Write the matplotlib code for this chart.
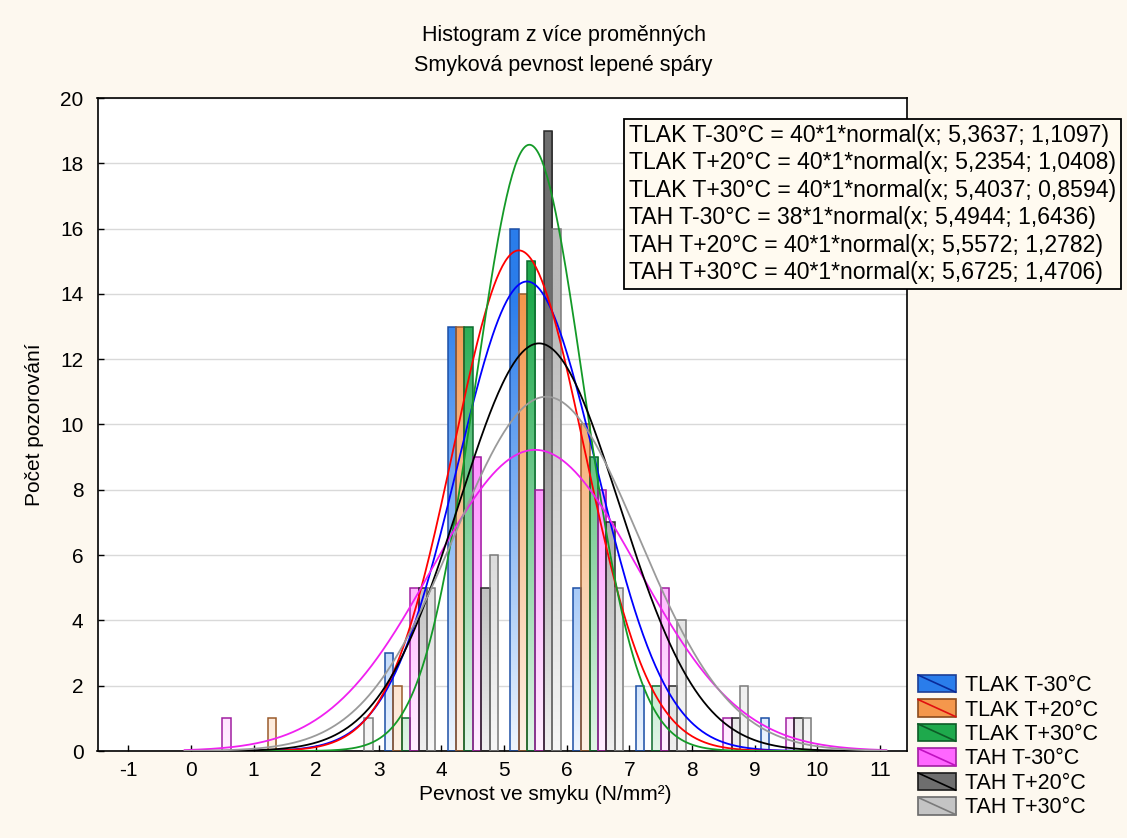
import numpy as np
import matplotlib
matplotlib.use("Agg")
import matplotlib.pyplot as plt
from matplotlib.patches import Rectangle
from matplotlib.lines import Line2D
from matplotlib.legend_handler import HandlerBase

plt.rcParams['font.family'] = ['Liberation Sans', 'DejaVu Sans']

# ---------------- data ----------------
series_names = ["TLAK T-30°C", "TLAK T+20°C", "TLAK T+30°C",
                "TAH T-30°C", "TAH T+20°C", "TAH T+30°C"]
bin_left = [0, 1, 2, 3, 4, 5, 6, 7, 8, 9, 10]
tlak_m30 = [0, 0, 0, 3, 13, 16, 5, 2, 0, 1, 0]
tlak_p20 = [0, 1, 0, 2, 13, 14, 10, 0, 0, 0, 0]
tlak_p30 = [0, 0, 0, 1, 13, 15, 9, 2, 0, 0, 0]
tah_m30 = [1, 0, 0, 5, 9, 8, 8, 5, 1, 1, 0]
tah_p20 = [0, 0, 0, 5, 5, 19, 7, 2, 1, 1, 0]
tah_p30 = [0, 0, 1, 5, 6, 16, 5, 4, 2, 1, 0]
fit_n = [40, 40, 40, 38, 40, 40]
fit_mean = [5.3637, 5.2354, 5.4037, 5.4944, 5.5572, 5.6725]
fit_sd = [1.1097, 1.0408, 0.8594, 1.6436, 1.2782, 1.4706]
x_ticks = list(range(-1, 12))
y_ticks = list(range(0, 21, 2))

counts = [tlak_m30, tlak_p20, tlak_p30, tah_m30, tah_p20, tah_p30]

# ---------------- styles ----------------
top_col = ["#2A7DEB", "#F4974C", "#1EA94C", "#FF5CFF", "#6E6E6E", "#B8B8B8"]
low_col = ["#EEF5FE", "#FEF1E6", "#E2F5E8", "#FFF0FF", "#F0F0F0", "#F7F7F7"]
edge_col = ["#1C4FA6", "#9A5B2C", "#0D6B2E", "#A01FA0", "#2A2A2A", "#7A7A7A"]
line_col = ["#0000FF", "#FF0000", "#149A28", "#F020F0", "#000000", "#9A9A9A"]
fig_bg = "#FDF8EF"

W, H = 1127, 838
fig = plt.figure(figsize=(W / 100, H / 100), dpi=100, facecolor=fig_bg)
axL, axR, axT, axB = 97.5, 907, 98, 751
ax = fig.add_axes([axL / W, 1 - axB / H, (axR - axL) / W, (axB - axT) / H])
ax.set_facecolor("white")

nser = len(counts)
bw = 0.8 / nser
for i, cnt in enumerate(counts):
    xs = np.array(bin_left, dtype=float) + 0.1 + i * bw
    bars = ax.bar(xs, cnt, width=bw, align="edge", facecolor="none",
                  edgecolor=edge_col[i], linewidth=1.1, zorder=3)
    c_top = np.array(matplotlib.colors.to_rgb(top_col[i]))
    c_low = np.array(matplotlib.colors.to_rgb(low_col[i]))
    for b, h in zip(bars, cnt):
        if h == 0:
            b.set_visible(False)
            continue
        ys = np.linspace(0, h, 80)
        t = np.clip(ys / 14.0, 0, 1)[:, None]
        img = c_low * (1 - t) + c_top * t
        x0 = b.get_x()
        im = ax.imshow(img[:, None, :], extent=(x0, x0 + bw, 0, h), origin="lower",
                       aspect="auto", interpolation="bilinear", zorder=2)
        im.set_clip_path(b)

xc = np.linspace(-0.1, 11.1, 500)
for i in range(nser):
    yc = fit_n[i] * 1 * np.exp(-0.5 * ((xc - fit_mean[i]) / fit_sd[i]) ** 2) / (fit_sd[i] * np.sqrt(2 * np.pi))
    ax.plot(xc, yc, color=line_col[i], linewidth=1.3, zorder=4)

ax.set_xlim(-1.49, 11.43)
ax.set_ylim(0, 20)
ax.set_xticks(x_ticks)
ax.set_yticks(y_ticks)
ax.set_xticklabels([str(v) for v in x_ticks])
ax.set_yticklabels([str(v) for v in y_ticks])
ax.tick_params(direction="in", length=4, width=1, labelsize=15, colors="black")
ax.tick_params(axis="y", pad=10)
ax.tick_params(axis="x", pad=7)
ax.yaxis.grid(True, color="#D9D9D9", linewidth=1.0)
ax.set_axisbelow(True)
for s in ax.spines.values():
    s.set_linewidth(1.2)
    s.set_color("black")

ax.set_xlabel("Pevnost ve smyku (N/mm²)", fontsize=15)
ax.xaxis.set_label_coords((545 - axL) / (axR - axL), -(785 - axB) / (axB - axT))
ax.set_ylabel("Počet pozorování", fontsize=15)
ax.yaxis.set_label_coords(-(axL - 44) / (axR - axL), 0.5)

fig.text(0.5, 1 - 36 / H, "Histogram z více proměnných", ha="center", va="center", fontsize=15.5)
fig.text(0.5, 1 - 66 / H, "Smyková pevnost lepené spáry", ha="center", va="center", fontsize=15.5)

# fit formula box
box_lines = []
for i in range(nser):
    box_lines.append("%s = %d*1*normal(x; %s; %s)" % (
        series_names[i], fit_n[i],
        ("%.4f" % fit_mean[i]).replace(".", ","),
        ("%.4f" % fit_sd[i]).replace(".", ",")))
fig.text(629 / W, 1 - 124 / H, "\n".join(box_lines), ha="left", va="top",
         fontsize=16.6, linespacing=1.245,
         bbox=dict(boxstyle="square,pad=0.2", facecolor="#FFFAF0",
                   edgecolor="black", linewidth=1.3), zorder=10)

# legend with diagonal keys
class Key:
    def __init__(self, face, edge, line):
        self.face, self.edge, self.line = face, edge, line


class KeyHandler(HandlerBase):
    def create_artists(self, legend, orig_handle, xdescent, ydescent,
                       width, height, fontsize, trans):
        r = Rectangle((-xdescent, -ydescent), width, height,
                      facecolor=orig_handle.face, edgecolor=orig_handle.edge,
                      linewidth=1.2, transform=trans)
        l = Line2D([-xdescent, -xdescent + width], [-ydescent + height, -ydescent],
                   color=orig_handle.line, linewidth=1.2, transform=trans)
        return [r, l]


legend_face = ["#2A7DEB", "#F4974C", "#1EA94C", "#FF66FF", "#6E6E6E", "#C4C4C4"]
legend_edge = ["#1C3F96", "#8A4B1C", "#0D5B26", "#A01FA0", "#1A1A1A", "#6A6A6A"]
legend_line = ["#0A2A9A", "#E01010", "#0D5B26", "#C010C0", "#000000", "#7A7A7A"]
keys = [Key(legend_face[i], legend_edge[i], legend_line[i]) for i in range(nser)]
fig.legend(keys, series_names, handler_map={Key: KeyHandler()},
           loc="upper left", bbox_to_anchor=(918 / W, 1 - 675 / H),
           frameon=False, fontsize=15.5, handlelength=1.75, handleheight=0.85,
           handletextpad=0.45, labelspacing=0.16, borderpad=0, borderaxespad=0)

fig.savefig("out.png", dpi=100, facecolor=fig_bg)
